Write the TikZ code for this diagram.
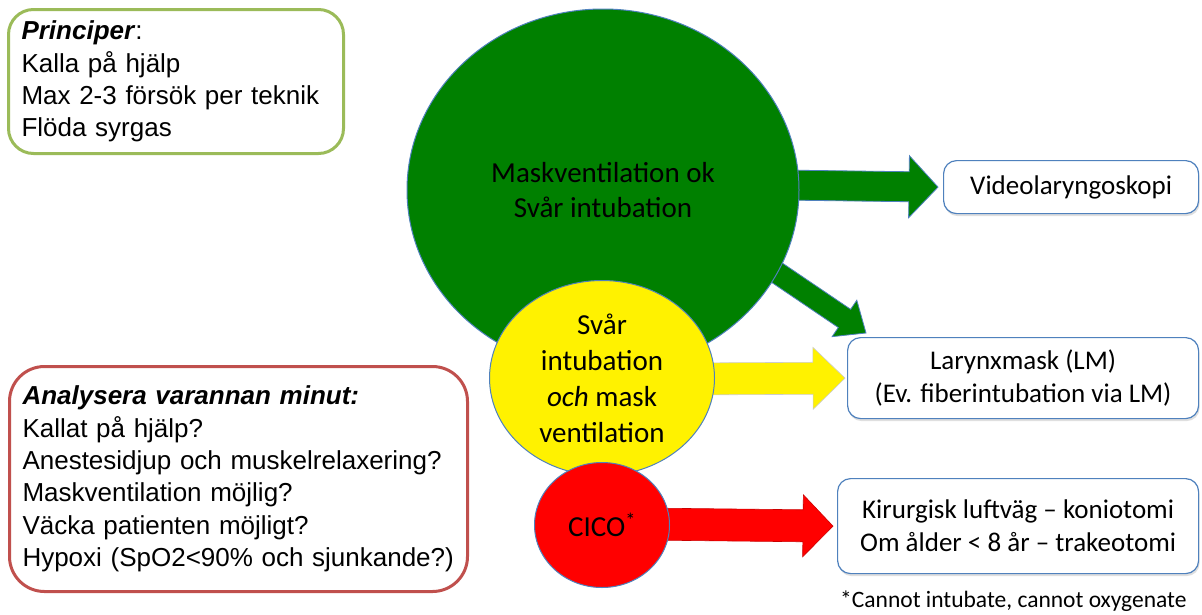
\documentclass[tikz,border=0pt]{standalone}
\usepackage{fontspec}
\setmainfont{Liberation Sans}
\newfontfamily\calfont{Carlito}
\usetikzlibrary{calc,shapes.geometric,shadows,backgrounds}
\definecolor{circgreen}{RGB}{0,128,0}
\definecolor{edgeblue}{RGB}{79,129,189}
\definecolor{princgreen}{RGB}{155,187,89}
\definecolor{analysred}{RGB}{192,80,77}
\newcommand{\blockarrow}[6]{
	\coordinate (hb) at ($(#3)!#6!(#2)$);
	\filldraw[#1] ($(#2)!#4!90:(#3)$) -- ($(hb)!#4!-90:(#2)$) -- ($(hb)!#5!-90:(#2)$) -- (#3) -- ($(hb)!#5!90:(#2)$) -- ($(hb)!#4!90:(#2)$) -- ($(#2)!#4!-90:(#3)$) -- cycle;}

\begin{document}
\begin{tikzpicture}[x=1pt,y=-1pt,
	leftbox/.style={draw,line width=3pt,rounded corners=25pt,fill=white,align=left,anchor=north west,inner xsep=13pt,font=\fontsize{26}{32.4}\selectfont},
	rightbox/.style={draw=edgeblue,line width=1.2pt,rounded corners=13pt,fill=white,align=center,anchor=north west,font=\calfont\fontsize{27}{33}\selectfont,drop shadow={shadow xshift=1pt,shadow yshift=-2.5pt,opacity=0.25}},
	blob/.style={ellipse,draw=edgeblue,line width=1pt,inner sep=0pt,align=center,font=\calfont\fontsize{29}{35.5}\selectfont},
	greenarrow/.style={fill=circgreen,draw=edgeblue,line width=0.8pt},
	yellowarrow/.style={fill=yellow,draw=black!20,line width=0.6pt},
	redarrow/.style={fill=red,draw=red!80!black,line width=0.6pt}]
					\useasboundingbox (0,0) rectangle (1202,614);
					%LEFT BOXES
					\node[leftbox,draw=princgreen,text width=309pt,minimum width=335pt,minimum height=144pt] (princ) at (7,8) {\textbf{\textit{Principer}}:\\Kalla på hjälp\\Max 2-3 försök per teknik\\Flöda syrgas};
					\node[leftbox,draw=analysred,rounded corners=35pt,text width=432pt,minimum width=458pt,minimum height=225pt] (analys) at (8,365) {\textbf{\textit{Analysera varannan minut:}}\\Kallat på hjälp?\\Anestesidjup och muskelrelaxering?\\Maskventilation möjlig?\\Väcka patienten möjligt?\\Hypoxi (SpO2<90\% och sjunkande?)};
					%RIGHT BOXES
					\node[rightbox,minimum width=255pt,minimum height=53pt] (video) at (943,160) {Videolaryngoskopi};
					\node[rightbox,minimum width=351pt,minimum height=81pt] (larynx) at (847,337) {Larynxmask (LM)\\(Ev. fiberintubation via LM)};
					\node[rightbox,minimum width=361pt,minimum height=95pt] (kirurg) at (837,478) {Kirurgisk luftväg – koniotomi\\Om ålder < 8 år – trakeotomi};
					\node[font=\calfont\fontsize{23.5}{28}\selectfont,anchor=west,inner sep=0pt] (fotnot) at (840,601) {*Cannot intubate, cannot oxygenate};
					%CIRCLES
					\node[blob,fill=circgreen,minimum width=392pt,minimum height=362pt] (ventok) at (603,190) {Maskventilation ok\\Svår intubation};
					\node[blob,fill=yellow,minimum width=225pt,minimum height=195pt,font=\calfont\fontsize{29}{36}\selectfont] (svarint) at (602,378) {Svår\\intubation\\\textit{och} mask\\ventilation};
					\node[blob,fill=red,minimum width=135pt,minimum height=125pt] (cico) at (602,525) {CICO\textsuperscript{*}};
					%ARROWS
					\coordinate (v0) at ($(ventok.east)+(-20,-5)$);
					\coordinate (v1) at ($(video.west)+(-5,0)$);
					\coordinate (d0) at ($(ventok.center)+(167,78)$);
					\coordinate (d1) at ($(larynx.north west)+(19,-4)$);
					\coordinate (s0) at ($(svarint.center)+(80,1)$);
					\coordinate (s1) at ($(larynx.west)+(-2,0)$);
					\coordinate (c0) at ($(cico.center)+(40,-1)$);
					\coordinate (c1) at ($(kirurg.west)+(-4,0)$);
					\begin{scope}[on background layer]
						\blockarrow{greenarrow}{v0}{v1}{15pt}{31pt}{29pt}
						\blockarrow{greenarrow}{d0}{d1}{11pt}{22pt}{26pt}
						\blockarrow{yellowarrow}{s0}{s1}{16pt}{31pt}{32pt}
						\blockarrow{redarrow}{c0}{c1}{16pt}{31pt}{30pt}
					\end{scope}
\end{tikzpicture}
\end{document}
